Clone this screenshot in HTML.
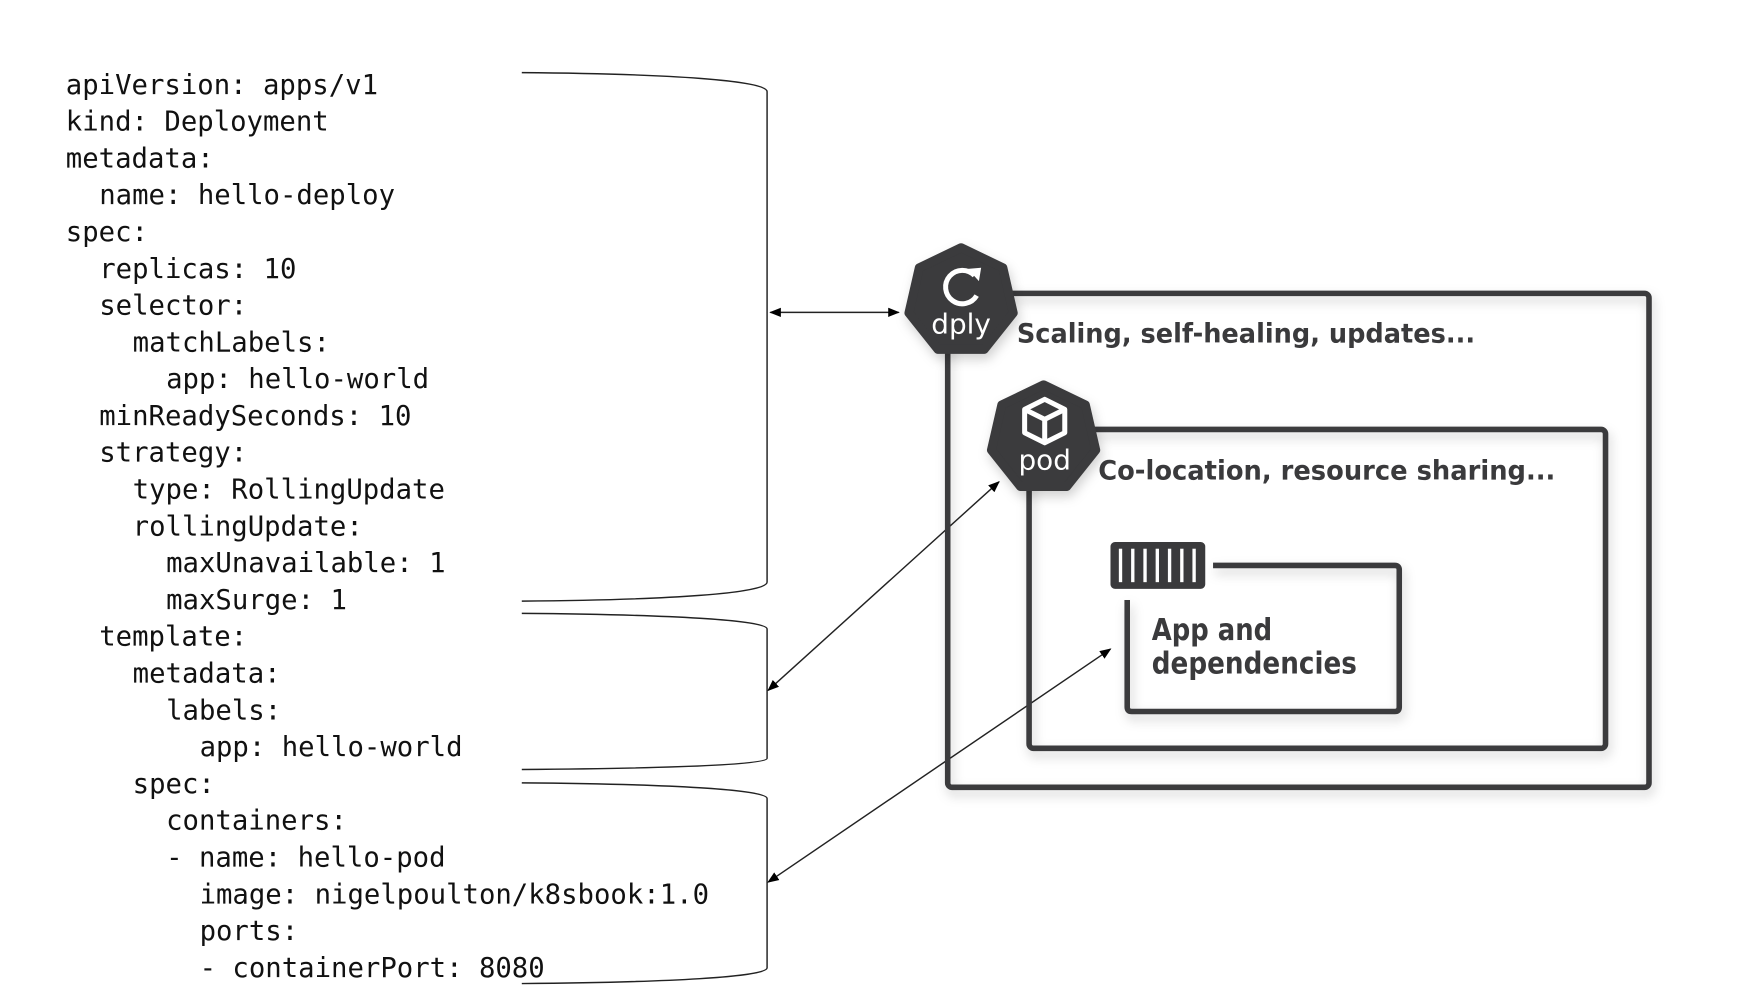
<!DOCTYPE html>
<html><head><meta charset="utf-8"><style>
html,body{margin:0;padding:0;background:#fff;}
svg{display:block;}
.c{font-family:"DejaVu Sans Mono","Liberation Mono",monospace;font-size:24.5px;fill:#111;}
.b{font-family:"DejaVu Sans","Liberation Sans",sans-serif;font-weight:bold;fill:#3a3a3c;}
</style></head><body>
<svg width="1746" height="1006" viewBox="0 0 1566 902" xmlns="http://www.w3.org/2000/svg">
<defs>
<marker id="a" viewBox="0 0 10 10" refX="9" refY="5" markerWidth="8" markerHeight="8" orient="auto-start-reverse"><path d="M0,1 L10,5 L0,9 z" fill="#000"/></marker>
<filter id="s" x="-10%" y="-10%" width="120%" height="120%"><feDropShadow dx="2" dy="5" stdDeviation="5" flood-color="#000" flood-opacity="0.18"/></filter>
</defs>
<g class="c">
<text x="59" y="84">apiVersion: apps/v1</text>
<text x="59" y="117">kind: Deployment</text>
<text x="59" y="150">metadata:</text>
<text x="89" y="183">name: hello-deploy</text>
<text x="59" y="216">spec:</text>
<text x="89" y="249">replicas: 10</text>
<text x="89" y="282">selector:</text>
<text x="119" y="315">matchLabels:</text>
<text x="149" y="348">app: hello-world</text>
<text x="89" y="381">minReadySeconds: 10</text>
<text x="89" y="414">strategy:</text>
<text x="119" y="447">type: RollingUpdate</text>
<text x="119" y="480">rollingUpdate:</text>
<text x="149" y="513">maxUnavailable: 1</text>
<text x="149" y="546">maxSurge: 1</text>
<text x="89" y="579">template:</text>
<text x="119" y="612">metadata:</text>
<text x="149" y="645">labels:</text>
<text x="179" y="678">app: hello-world</text>
<text x="119" y="711">spec:</text>
<text x="149" y="744">containers:</text>
<text x="149" y="777">- name: hello-pod</text>
<text x="179" y="810">image: nigelpoulton/k8sbook:1.0</text>
<text x="179" y="843">ports:</text>
<text x="179" y="876">- containerPort: 8080</text>
</g>
<g fill="none" stroke="#222" stroke-width="1.3">
<path d="M468,65 C600,66 688,72 688,82 L688,522 C688,532 600,538 468,539"/>
<path d="M468,550 C600,551 688,556 688,564 L688,680 C688,686 600,689 468,690"/>
<path d="M468,702 C600,703 688,708 688,716 L688,868 C688,876 600,881 468,882"/>
<line x1="691" y1="280" x2="806" y2="280" marker-start="url(#a)" marker-end="url(#a)"/>
<line x1="689" y1="619" x2="896" y2="432" marker-start="url(#a)" marker-end="url(#a)"/>
<line x1="689" y1="791" x2="996" y2="582" marker-start="url(#a)" marker-end="url(#a)"/>
</g>
<g fill="none" stroke="#3a3a3c" stroke-width="5" stroke-linejoin="round" filter="url(#s)">
<rect x="850" y="263" width="629" height="443" rx="4"/>
<rect x="923" y="385" width="517" height="286" rx="4"/>
<path d="M1088,507 L1251,507 Q1255,507 1255,511 L1255,634 Q1255,638 1251,638 L1015,638 Q1011,638 1011,634 L1011,538"/>
</g>
<text class="b" x="912" y="307" font-size="24" textLength="411" lengthAdjust="spacingAndGlyphs">Scaling, self-healing, updates...</text>
<text class="b" x="985" y="430" font-size="24" textLength="410" lengthAdjust="spacingAndGlyphs">Co-location, resource sharing...</text>
<text class="b" x="1033" y="574" font-size="27" textLength="108" lengthAdjust="spacingAndGlyphs">App and</text>
<text class="b" x="1033" y="604" font-size="27" textLength="184" lengthAdjust="spacingAndGlyphs">dependencies</text>
<!-- container icon -->
<rect x="996" y="486" width="85" height="42" rx="4" fill="#3a3a3c"/>
<g stroke="#fff" stroke-width="3">
<line x1="1005" y1="492" x2="1005" y2="522"/><line x1="1016" y1="492" x2="1016" y2="522"/><line x1="1027" y1="492" x2="1027" y2="522"/><line x1="1038" y1="492" x2="1038" y2="522"/><line x1="1049" y1="492" x2="1049" y2="522"/><line x1="1060" y1="492" x2="1060" y2="522"/><line x1="1071" y1="492" x2="1071" y2="522"/>
</g>
<!-- dply heptagon -->
<g filter="url(#s)">
<polygon points="862,222 899.5,240 908.8,280.6 882.8,313.2 841.2,313.2 815.2,280.6 824.5,240" fill="#3a3a3c" stroke="#3a3a3c" stroke-width="8" stroke-linejoin="round"/>
<polygon points="936,345 973.5,363 982.8,403.6 956.8,436.2 915.2,436.2 889.2,403.6 898.5,363" fill="#3a3a3c" stroke="#3a3a3c" stroke-width="8" stroke-linejoin="round"/>
</g>
<path d="M874,247 A15,15 0 1 0 876,265" fill="none" stroke="#fff" stroke-width="4.5"/>
<path d="M868,241 L880,240 L878,252 z" fill="#fff"/>
<text x="862" y="299" text-anchor="middle" font-family="DejaVu Sans, Liberation Sans, sans-serif" font-size="25" fill="#fff">dply</text>
<g fill="none" stroke="#fff" stroke-width="4.5" stroke-linejoin="round">
<path d="M937,358 L955,367 L955,388 L937,397 L919,388 L919,367 z"/>
<path d="M919,367 L937,376 L955,367 M937,376 L937,397"/>
</g>
<text x="937" y="421" text-anchor="middle" font-family="DejaVu Sans, Liberation Sans, sans-serif" font-size="25" fill="#fff">pod</text>
</svg>
</body></html>
